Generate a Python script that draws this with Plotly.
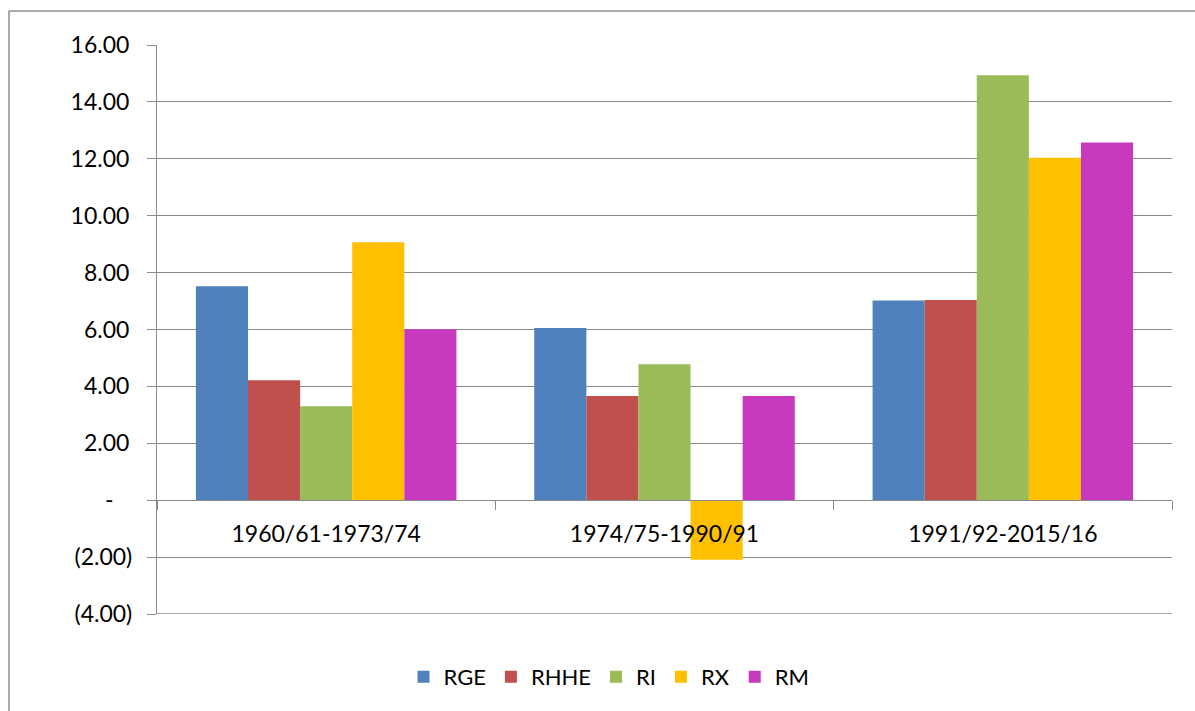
import plotly.graph_objects as go

# Growth rates (%) by period
periods = ["1960/61-1973/74", "1974/75-1990/91", "1991/92-2015/16"]
rge = [7.52, 6.05, 7.02]
rhhe = [4.22, 3.66, 7.04]
ri = [3.30, 4.78, 14.94]
rx = [9.07, -2.09, 12.04]
rm = [6.01, 3.66, 12.57]

series_names = ["RGE", "RHHE", "RI", "RX", "RM"]
series_values = [rge, rhhe, ri, rx, rm]
series_colors = ["#4F81BD", "#C0504D", "#9BBB59", "#FFC000", "#C73ABD"]

# accounting-style labels: the zero dash sits left of the number column
pad = "<span style='color:rgba(0,0,0,0)'>0.</span>"
y_tickvals = [16, 14, 12, 10, 8, 6, 4, 2, 0, -2, -4]
y_ticktext = ["16.00\u2009", "14.00\u2009", "12.00\u2009", "10.00\u2009", "8.00\u2009",
              "6.00\u2009", "4.00\u2009", "2.00\u2009", "-" + pad,
              "(2.00)", "(4.00)"]

FONT = "Lato, Calibri, 'Open Sans', sans-serif"
GRID = "#8a8a8a"

fig = go.Figure()
for name, vals, col in zip(series_names, series_values, series_colors):
    fig.add_trace(go.Bar(x=periods, y=vals, name=name, marker_color=col,
                         marker_line_width=0))

W, H = 1195, 711
ml, mr, mt, mb = 157, 23, 45, 97
pw, ph = W - ml - mr, H - mt - mb
ymin, ymax = -4, 16

def px_x(p):
    return (p - ml) / pw

def px_y(p):
    return (H - mb - p) / ph

fig.update_layout(
    width=W, height=H,
    margin=dict(l=ml, r=mr, t=mt, b=mb),
    paper_bgcolor="white", plot_bgcolor="white",
    font=dict(family=FONT, size=23, color="#000000"),
    barmode="group", bargap=0.23, bargroupgap=0,
    showlegend=True,
    legend=dict(orientation="h", x=px_x(609), y=px_y(677),
                xanchor="center", yanchor="middle",
                font=dict(size=22), itemwidth=30,
                bgcolor="rgba(0,0,0,0)"),
    xaxis=dict(
        type="category", anchor="free",
        position=(0 - ymin) / (ymax - ymin),
        showline=True, linecolor=GRID, linewidth=1.3,
        ticks="outside", tickson="boundaries", ticklen=9,
        tickcolor=GRID, tickwidth=1.3,
        showgrid=False, zeroline=False,
        ticklabelstandoff=13,
        tickfont=dict(size=23),
    ),
    yaxis=dict(
        range=[ymin, ymax], tickvals=y_tickvals, ticktext=y_ticktext,
        showgrid=True, gridcolor=GRID, gridwidth=1.3,
        zeroline=False,
        showline=True, linecolor=GRID, linewidth=1.3,
        ticks="outside", ticklen=9, tickcolor=GRID, tickwidth=1.3,
        ticklabelstandoff=10,
        tickfont=dict(size=23),
    ),
    shapes=[
        # bottom gridline at the lower range limit
        dict(type="line", xref="paper", yref="y",
             x0=0, x1=1, y0=ymin, y1=ymin, layer="below",
             line=dict(color=GRID, width=1.3)),
        # chart-area frame (left and top edges)
        dict(type="line", xref="paper", yref="paper",
             x0=px_x(9), x1=px_x(9), y0=px_y(11), y1=px_y(H + 5),
             line=dict(color="#8f8f8f", width=1.5)),
        dict(type="line", xref="paper", yref="paper",
             x0=px_x(9), x1=px_x(W + 5), y0=px_y(11), y1=px_y(11),
             line=dict(color="#8f8f8f", width=1.5)),
    ],
)

fig.write_html("out.html")
